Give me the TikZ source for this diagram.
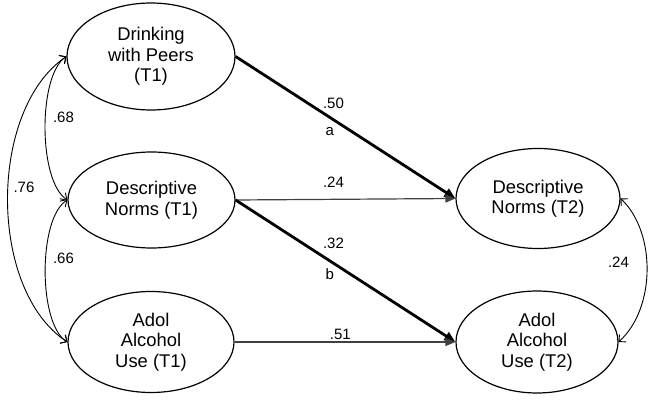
\documentclass[tikz,border=0pt]{standalone}
\usepackage{fontspec}
\setmainfont{Liberation Sans}
\usetikzlibrary{shapes.geometric,arrows.meta}
\begin{document}
\begin{tikzpicture}[x=1pt,y=-1pt,
  latent/.style={ellipse,draw,line width=1.2pt,inner sep=0pt,align=center,
    font=\fontsize{18.4}{20.5}\selectfont},
  lbl/.style={font=\fontsize{15}{17}\selectfont,inner sep=0pt},
  thickpath/.style={line width=2.8pt,-{Triangle[length=11pt,width=9pt]}},
  thinpath/.style={line width=1.2pt,draw=black!75,-{Triangle[length=10pt,width=8pt]}},
  cov/.style={line width=0.9pt,{Straight Barb[length=5pt,width=10pt]}-{Straight Barb[length=5pt,width=10pt]}}]
\useasboundingbox (0,0) rectangle (649,401);

\node[latent,minimum width=168pt,minimum height=107pt] (dwp) at (151,56.5) {Drinking\\with Peers\\(T1)};
\node[latent,minimum width=167pt,minimum height=96pt] (dn1) at (151.5,200) {Descriptive\\Norms (T1)};
\node[latent,minimum width=166pt,minimum height=101pt] (aau1) at (151,342) {Adol\\Alcohol\\Use (T1)};
\node[latent,minimum width=164pt,minimum height=100pt] (dn2) at (538,198.5) {Descriptive\\Norms (T2)};
\node[latent,minimum width=162pt,minimum height=102pt] (aau2) at (537,342) {Adol\\Alcohol\\Use (T2)};

\draw[thickpath] (dwp.east) -- (dn2.west);
\draw[thinpath] (dn1.east) -- (dn2.west);
\draw[thickpath] (dn1.east) -- (aau2.west);
\draw[thinpath] (aau1.east) -- (aau2.west);

\draw[cov] (dwp.west) .. controls (38,75) and (38,181) .. (dn1.west);
\draw[cov] (dn1.west) .. controls (38,218) and (38,324) .. (aau1.west);
\draw[cov] (dwp.west) .. controls (-12,110) and (-12,290) .. (aau1.west);
\draw[cov] (dn2.east) .. controls (656,232) and (656,308) .. (aau2.east);

\node[lbl] (l50) at (333.5,103) {.50};
\node[lbl] (la) at (329.7,131.7) {a};
\node[lbl] (l24) at (333.5,182) {.24};
\node[lbl] (l32) at (333.5,243) {.32};
\node[lbl] (lb) at (329.7,273.7) {b};
\node[lbl] (l51) at (340.3,334) {.51};
\node[lbl] (l68) at (63.5,117) {.68};
\node[lbl] (l76) at (24,187) {.76};
\node[lbl] (l66) at (63.5,258) {.66};
\node[lbl] (r24) at (618.5,262) {.24};
\end{tikzpicture}
\end{document}
